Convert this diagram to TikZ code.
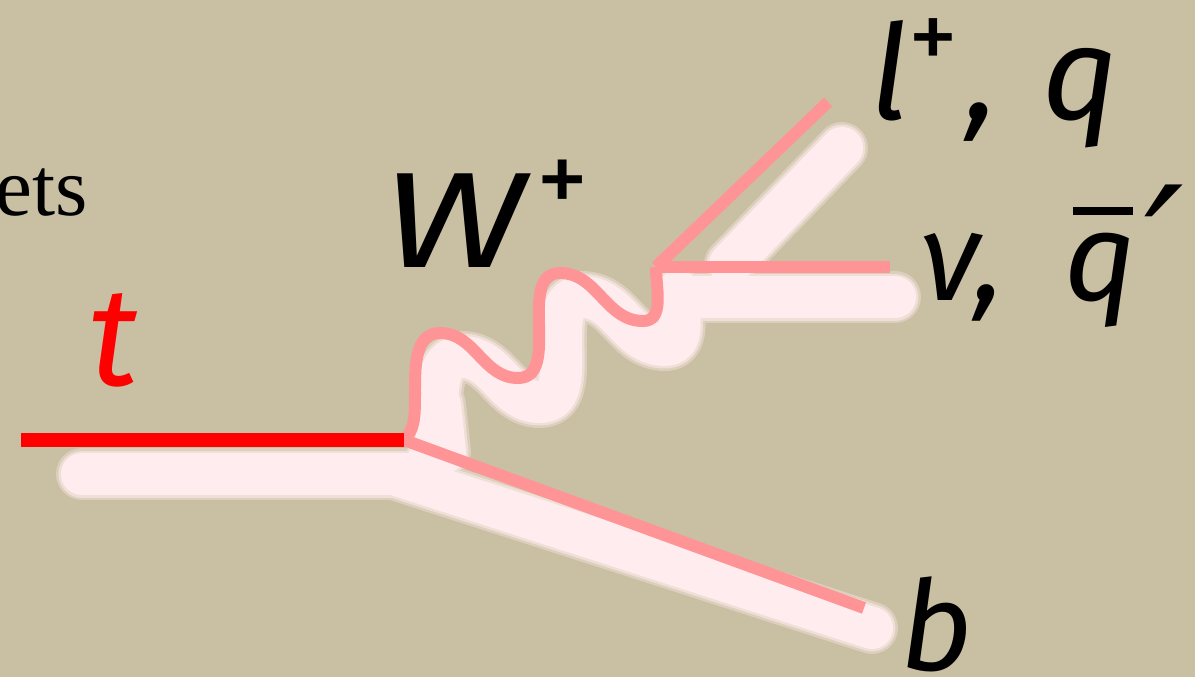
\documentclass[tikz,border=0pt]{standalone}
\usepackage{fontspec}
\setmainfont{Fira Sans}
\newfontfamily\seriffont{Liberation Serif}
\newfontfamily\dejavu{DejaVu Sans}
\newcommand\myfs[1]{\fontsize{#1}{#1}\selectfont}
\definecolor{bg}{RGB}{201,191,163}
\definecolor{glowcore}{RGB}{255,236,238}
\colorlet{glowA}{glowcore!35!bg}
\colorlet{glowB}{glowcore!70!bg}
\definecolor{pinkline}{RGB}{255,148,150}
\definecolor{topred}{RGB}{255,0,0}
\tikzset{
  haloA/.style={draw=glowA, line width=52pt, line cap=round, line join=round},
  haloB/.style={draw=glowB, line width=47pt, line cap=round, line join=round},
  core/.style={draw=glowcore, line width=42pt, line cap=round, line join=round},
  particle/.style={draw=pinkline, line width=12pt, line join=round},
  topline/.style={draw=topred, line width=14pt},
  lab/.style={inner sep=0pt, anchor=base west, text=black},
}
\begin{document}
\begin{tikzpicture}[x=1pt,y=1pt]
\fill[bg] (0,0) rectangle (1195,-677);
\useasboundingbox (0,0) rectangle (1195,-677);

\coordinate (tstart) at (21,-440);
\coordinate (vtx) at (404,-440);
\coordinate (wvtx) at (656,-267);
\coordinate (lend) at (828,-102);
\coordinate (nuend) at (890,-267);
\coordinate (bend) at (864,-608);

% soft shadows
\foreach \s in {haloA,haloB,core}{
  \draw[\s] (82,-474) -- (420,-474);
  \draw[\s] (400,-476) -- (872,-628);
  \draw[\s] (690,-297) -- (895,-297);
  \draw[\s] (730,-264) -- (842,-148);
  \draw[\s] (440,-405) -- (445,-452);
  \draw[\s, shift={(22,-24)}] (404,-440) .. controls (414,-430) and (415,-420) .. (415,-395)
      to[out=90,in=180] (440,-333) to[out=0,in=180] (518,-378)
      to[out=0,in=180] (560,-273) to[out=0,in=180] (643,-321) to[out=0,in=-90] (656,-267);
}

% particle lines
\draw[particle] (vtx) -- (bend);
\draw[particle] (wvtx) -- (lend);
\draw[particle] (wvtx) -- (nuend);
\draw[particle] (vtx) .. controls (414,-430) and (415,-420) .. (415,-395)
      to[out=90,in=180] (440,-333) to[out=0,in=180] (518,-378)
      to[out=0,in=180] (560,-273) to[out=0,in=180] (643,-321) to[out=0,in=-90] (wvtx);
\draw[topline] (tstart) -- (vtx);

% labels
\node[inner sep=0pt, anchor=base east] (ets) at (88,-215) {\seriffont\myfs{83}ets};
\node[lab, text=topred] (tlab) at (88,-385) {\myfs{140}\itshape t};
\node[lab] (wlab) at (382,-267) {\myfs{136}\itshape \scalebox{1.28}[1]{W}\hspace{12pt}\raisebox{53pt}{\upshape\myfs{105}+}};
\node[lab] (lq) at (870,-120) {\myfs{132}\itshape l\hspace{0pt}\raisebox{49pt}{\upshape\myfs{100}+}\hspace{8pt},\hspace{45pt}q};
\node[lab] (nuq) at (920,-300) {\myfs{125}\itshape ν,\hspace{60pt}\rlap{\hspace{8pt}\rule[85pt]{60pt}{8pt}}q\hspace{8pt}{\dejavu\itshape\myfs{175}\raisebox{-12pt}{′}}};
\node[lab] (blab) at (900,-670) {\myfs{125}\itshape b};
\end{tikzpicture}
\end{document}
